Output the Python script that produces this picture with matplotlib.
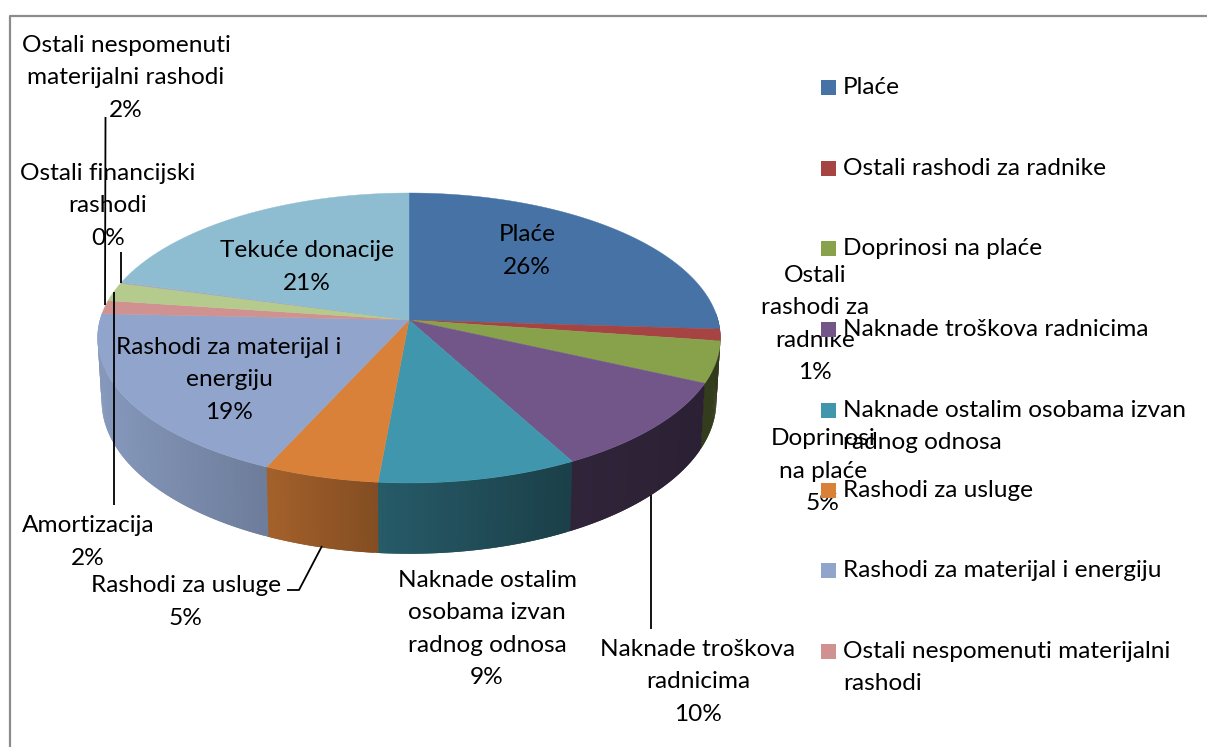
import numpy as np
import matplotlib
matplotlib.use("Agg")
import matplotlib.pyplot as plt
from matplotlib.colors import to_rgb
from matplotlib.patches import Rectangle

plt.rcParams['font.family'] = ['Lato', 'DejaVu Sans']

# Slices, clockwise from 12 o'clock
names = ["Plaće", "Ostali rashodi za radnike", "Doprinosi na plaće", "Naknade troškova radnicima",
         "Naknade ostalim osobama izvan radnog odnosa", "Rashodi za usluge",
         "Rashodi za materijal i energiju", "Ostali nespomenuti materijalni rashodi",
         "Amortizacija", "Ostali financijski rashodi", "Tekuće donacije"]
values = [26.0, 1.3, 4.6, 10.3, 9.2, 5.3, 19.0, 1.5, 2.1, 0.1, 20.6]
colors = ["#4672A6", "#A54443", "#88A24C", "#725689", "#4097AD", "#D98039",
          "#91A5CC", "#CF9290", "#B5CB8E", "#A99BBD", "#8EBDD2"]

# Data labels as they are wrapped in the picture: text, centre x, centre y
labels = ["Ostali nespomenuti\nmaterijalni rashodi\n2%", "Ostali financijski\nrashodi\n0%",
          "Tekuće donacije\n21%", "Plaće\n26%", "Ostali\nrashodi za\nradnike\n1%",
          "Rashodi za materijal i\nenergiju\n19%", "Doprinosi\nna plaće\n5%",
          "Amortizacija\n2%", "Rashodi za usluge\n5%",
          "Naknade ostalim\nosobama izvan\nradnog odnosa\n9%", "Naknade troškova\nradnicima\n10%"]
label_x = [126, 108, 307, 527, 815, 229, 823, 88, 186, 487, 698]
label_y = [78, 206, 267, 251, 324, 380, 471, 542, 602, 629, 682]

# Legend is cut off after eight entries in the original
legend_names = ["Plaće", "Ostali rashodi za radnike", "Doprinosi na plaće", "Naknade troškova radnicima",
                "Naknade ostalim osobama izvan\nradnog odnosa", "Rashodi za usluge",
                "Rashodi za materijal i energiju", "Ostali nespomenuti materijalni\nrashodi"]
legend_y = [87, 168, 248, 329, 410, 490, 570, 651]

# Leader lines
leaders = [([105.5, 105], [117, 305]),
           ([121, 121], [252, 283]),
           ([114, 114], [292, 505]),
           ([287, 299, 322], [590, 590, 546]),
           ([651, 651], [495, 629])]

FS = 17.6
LS = 1.66


def project(angle, top=True):
    # perspective view of the unit disc, angle in degrees clockwise from the top
    t = np.radians(angle)
    x, y = np.sin(t), np.cos(t)
    w = 1 + 0.1241 * y
    if top:
        return 409 + 309 * x / w, (320 - 103.04 * y) / w
    return 409 + 305 * x / w, (382 - 103.04 * y) / w


def shade(col, px):
    # the rim gets darker from left to right
    f = np.interp(px, [100, 268, 378, 570, 720], [0.92, 0.75, 0.60, 0.42, 0.37])
    return tuple(np.array(to_rgb(col)) * f)


fig = plt.figure(figsize=(12.07, 7.47), dpi=100)
ax = fig.add_axes([0, 0, 1, 1])
ax.set_xlim(0, 1207)
ax.set_ylim(747, 0)
ax.axis('off')

edges = np.concatenate([[0], np.cumsum(values)]) * 360 / sum(values)

# Rim, only the part facing the viewer. Each strip runs under the next one so no seams show.
for i in range(len(values)):
    a0, a1 = max(edges[i], 87), min(edges[i + 1], 273)
    if a1 <= a0:
        continue
    steps = np.linspace(a0, a1, int((a1 - a0) / 0.7) + 2)
    for j in range(len(steps) - 1):
        s0 = steps[j]
        s1 = min(steps[j] + 2 * (steps[1] - steps[0]), a1 + 0.3)
        xt0, yt0 = project(s0)
        xt1, yt1 = project(s1)
        xb0, yb0 = project(s0, False)
        xb1, yb1 = project(s1, False)
        c = shade(colors[i], project(steps[j + 1])[0])
        ax.fill([xt0, xt1, xb1, xb0], [yt0, yt1, yb1, yb0], color=c, lw=0, zorder=1)

# Top face
cx, cy = 409, 320
for i in range(len(values)):
    a = np.linspace(edges[i], edges[i + 1], max(int(values[i] * 6), 3))
    px, py = project(a)
    ax.fill(np.r_[cx, px], np.r_[cy, py], color=colors[i], lw=0.3, zorder=2)

for lx, ly in leaders:
    ax.plot(lx, ly, color="black", lw=1.3, zorder=3, solid_capstyle='butt')

for t, x, y in zip(labels, label_x, label_y):
    ax.text(x, y, t, ha='center', va='center', fontsize=FS, linespacing=LS, color="black", zorder=4)

# Legend
for name, col, y in zip(legend_names, colors, legend_y):
    ax.add_patch(Rectangle((821, y - 7), 15, 15, color=col, lw=0, zorder=5))
    ax.text(843, y - 10, name, ha='left', va='top', fontsize=FS, linespacing=LS, color="black", zorder=6)

# Chart frame, only top and left are inside the crop
ax.plot([10, 10, 1207], [747, 16, 16], color="#8C8C8C", lw=1.6, zorder=0)

fig.savefig("out.png", dpi=100)
